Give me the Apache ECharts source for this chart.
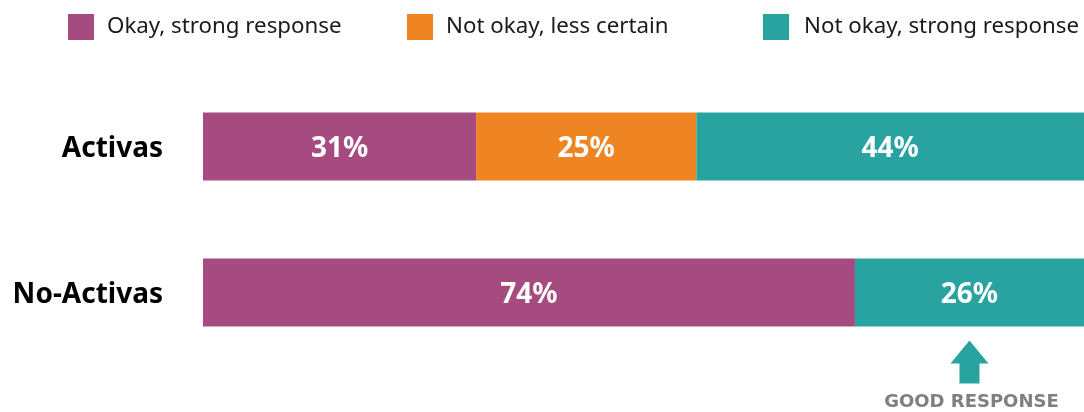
<!DOCTYPE html>
<html><head><meta charset="utf-8">
<script src="https://cdn.jsdelivr.net/npm/echarts@6/dist/echarts.min.js"></script>
<style>html,body{margin:0;padding:0;background:#fff}#c{width:1084px;height:412px}</style>
</head><body><div id="c"></div>
<script>
const categories = ['Activas', 'No-Activas'];
const seriesNames = ['Okay, strong response', 'Not okay, less certain', 'Not okay, strong response'];
const okayStrong = [31, 74];
const notOkayLess = [25, 0];
const notOkayStrong = [44, 26];
const annotationText = 'GOOD RESPONSE';

const colors = ['#A64B7F', '#EE8422', '#29A3A0'];
const FONT = '"Noto Sans", "Open Sans", sans-serif';
const chart = echarts.init(document.getElementById('c'));

function mk(name, data, color) {
  return {
    name: name, type: 'bar', stack: 'total', data: data, barWidth: 68,
    itemStyle: { color: color },
    label: {
      show: true, position: 'inside', offset: [0, 3], color: '#fff', fontFamily: FONT,
      fontWeight: 'bold', fontSize: 28,
      formatter: p => p.value ? p.value + '%' : ''
    }
  };
}
function legendAt(i, left) {
  return {
    data: [seriesNames[i]], left: left, top: 14, itemWidth: 26, itemHeight: 26,
    icon: 'rect', padding: 0,
    textStyle: { fontFamily: FONT, fontSize: 22.3, color: '#1a1a1a', padding: [2, 0, 0, i === 2 ? 10 : 8] }
  };
}
chart.setOption({
  animation: false,
  color: colors,
  legend: [legendAt(0, 68), legendAt(1, 407), legendAt(2, 763)],
  grid: { left: 203, right: 0, top: 73.5, bottom: 46.5, containLabel: false },
  xAxis: { type: 'value', min: 0, max: 100, show: false },
  yAxis: {
    type: 'category', data: categories, inverse: true,
    axisLine: { show: false }, axisTick: { show: false },
    axisLabel: {
      margin: 40, formatter: v => '{a|' + v + '}',
      rich: { a: { fontFamily: FONT, fontWeight: 'bold', fontSize: 28, color: '#000', padding: [6, 0, 0, 0] } }
    }
  },
  series: [
    mk(seriesNames[0], okayStrong, colors[0]),
    mk(seriesNames[1], notOkayLess, colors[1]),
    mk(seriesNames[2], notOkayStrong, colors[2])
  ]
});
// annotation arrow under the centre of the last No-Activas segment
const idx = 1;
const segStart = okayStrong[idx] + notOkayLess[idx];
const segMid = segStart + notOkayStrong[idx] / 2;
const pt = chart.convertToPixel({ gridIndex: 0 }, [segMid, categories[idx]]);
const cx = pt[0];
const ay = pt[1] + 48;
chart.setOption({
  graphic: [
    { type: 'polygon', shape: { points: [
      [cx, ay], [cx + 19, ay + 23], [cx + 10, ay + 23], [cx + 10, ay + 43],
      [cx - 10, ay + 43], [cx - 10, ay + 23], [cx - 19, ay + 23]] },
      style: { fill: colors[2] } },
    { type: 'text', x: cx + 2, y: 402, style: { text: annotationText, fill: '#7F7F7F',
      font: 'bold 18px "DejaVu Sans", sans-serif', textAlign: 'center', textVerticalAlign: 'middle' } }
  ]
});
</script></body></html>
